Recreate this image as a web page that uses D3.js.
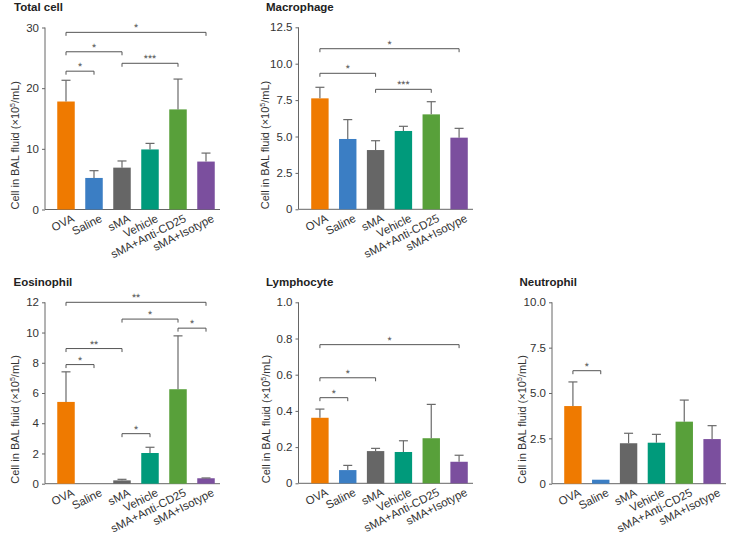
<!DOCTYPE html>
<html>
<head>
<meta charset="utf-8">
<script src="https://cdn.jsdelivr.net/npm/d3@7/dist/d3.min.js"></script>
<style>
  html, body { margin: 0; padding: 0; background: #ffffff; }
  svg { display: block; }
  text { font-family: "Liberation Sans", Arial, sans-serif; }
</style>
</head>
<body>
<svg id="chart" width="734" height="538"></svg>
<script>
// ---------------- data ----------------
const categories = ["OVA", "Saline", "sMA", "Vehicle", "sMA+Anti-CD25", "sMA+Isotype"];
const barColors = ["#ef7a00", "#3b7ec4", "#666666", "#009a7b", "#58a03a", "#7b4f9e"];

const totalMean = [17.8, 5.2, 6.9, 9.9, 16.5, 7.9];
const totalSD   = [3.5, 1.2, 1.1, 1.0, 5.0, 1.4];
const totalTicks = [0, 10, 20, 30];
const totalTickLabels = ["0", "10", "20", "30"];
const totalSig = [[0, 5, 29.2, "*"], [0, 2, 26.0, "*"], [0, 1, 22.8, "*"], [2, 4, 24.1, "***"]];

const macroMean = [7.62, 4.83, 4.07, 5.38, 6.52, 4.92];
const macroSD   = [0.76, 1.33, 0.64, 0.32, 0.87, 0.64];
const macroTicks = [0, 2.5, 5, 7.5, 10, 12.5];
const macroTickLabels = ["0", "2.5", "5.0", "7.5", "10.0", "12.5"];
const macroSig = [[0, 5, 11.03, "*"], [0, 2, 9.34, "*"], [2, 4, 8.24, "***"]];

const eosMean = [5.41, 0, 0.22, 2.03, 6.25, 0.36];
const eosSD   = [1.99, 0, 0.07, 0.38, 3.53, 0.02];
const eosTicks = [0, 2, 4, 6, 8, 10, 12];
const eosTickLabels = ["0", "2", "4", "6", "8", "10", "12"];
const eosSig = [[0, 5, 12.0, "**"], [2, 4, 10.89, "*"], [4, 5, 10.29, "*"], [0, 2, 8.94, "**"], [0, 1, 7.88, "*"], [2, 3, 3.31, "*"]];

const lymMean = [0.362, 0.073, 0.178, 0.173, 0.249, 0.119];
const lymSD   = [0.048, 0.026, 0.015, 0.062, 0.187, 0.036];
const lymTicks = [0, 0.2, 0.4, 0.6, 0.8, 1.0];
const lymTickLabels = ["0", "0.2", "0.4", "0.6", "0.8", "1.0"];
const lymSig = [[0, 5, 0.766, "*"], [0, 2, 0.583, "*"], [0, 1, 0.473, "*"]];

const neuMean = [4.28, 0.22, 2.23, 2.26, 3.42, 2.46];
const neuSD   = [1.33, 0, 0.55, 0.46, 1.19, 0.74];
const neuTicks = [0, 2.5, 5, 7.5, 10];
const neuTickLabels = ["0", "2.5", "5.0", "7.5", "10.0"];
const neuSig = [[0, 1, 6.23, "*"]];

const titles = ["Total cell", "Macrophage", "Eosinophil", "Lymphocyte", "Neutrophil"];

// ---------------- layout ----------------
const panels = [
  { title: titles[0], mean: totalMean, sd: totalSD, ticks: totalTicks, labels: totalTickLabels, sig: totalSig,
    axisX: 45, y0: 209.5, yTop: 27.5, band: [52, 220], titleX: 14, titleY: 11, labelX: 19 },
  { title: titles[1], mean: macroMean, sd: macroSD, ticks: macroTicks, labels: macroTickLabels, sig: macroSig,
    axisX: 298.5, y0: 209.3, yTop: 27.3, band: [306, 473], titleX: 266, titleY: 11, labelX: 269 },
  { title: titles[2], mean: eosMean, sd: eosSD, ticks: eosTicks, labels: eosTickLabels, sig: eosSig,
    axisX: 45, y0: 483.7, yTop: 302.3, band: [52, 220], titleX: 13.5, titleY: 286, labelX: 19 },
  { title: titles[3], mean: lymMean, sd: lymSD, ticks: lymTicks, labels: lymTickLabels, sig: lymSig,
    axisX: 298.5, y0: 483.3, yTop: 302.3, band: [306, 473], titleX: 266, titleY: 286, labelX: 270 },
  { title: titles[4], mean: neuMean, sd: neuSD, ticks: neuTicks, labels: neuTickLabels, sig: neuSig,
    axisX: 552, y0: 483.7, yTop: 302.3, band: [559, 726], titleX: 519.5, titleY: 286, labelX: 525.5 }
];

const svg = d3.select("#chart");
const axisColor = "#666666";
const textColor = "#333333";
const errColor = "#6a6a6a";
const sigColor = "#555555";

panels.forEach(p => {
  const g = svg.append("g");
  const tmax = p.ticks[p.ticks.length - 1];
  const y = d3.scaleLinear().domain([0, tmax]).range([p.y0, p.yTop]);
  const x = d3.scaleBand().domain(categories).range(p.band).paddingInner(0.375).paddingOuter(0.1875);

  // title
  g.append("text").attr("x", p.titleX).attr("y", p.titleY)
    .attr("font-size", 11.5).attr("font-weight", "bold").attr("fill", "#222")
    .text(p.title);

  // y axis
  const yAxis = d3.axisLeft(y).tickValues(p.ticks)
    .tickFormat((d, i) => p.labels[i]).tickSize(3).tickPadding(3);
  const ya = g.append("g").attr("transform", `translate(${p.axisX},0)`).call(yAxis);
  ya.select(".domain").attr("stroke", axisColor).attr("d", `M0,${p.yTop}V${p.y0}`);
  ya.selectAll(".tick line").attr("stroke", axisColor);
  ya.selectAll(".tick text").attr("fill", textColor).attr("font-size", 11.5)
    .attr("font-family", "'Liberation Sans', Arial, sans-serif");

  // x axis line
  g.append("line").attr("x1", p.axisX).attr("x2", p.band[1])
    .attr("y1", p.y0).attr("y2", p.y0).attr("stroke", axisColor).attr("stroke-width", 1);

  // bars
  g.selectAll("rect.bar").data(categories).enter().append("rect")
    .attr("class", "bar")
    .attr("x", d => x(d))
    .attr("width", x.bandwidth())
    .attr("y", (d, i) => y(p.mean[i]))
    .attr("height", (d, i) => y(0) - y(p.mean[i]))
    .attr("fill", (d, i) => barColors[i]);

  // error bars (upper only)
  categories.forEach((c, i) => {
    if (p.sd[i] <= 0) return;
    const cx = x(c) + x.bandwidth() / 2;
    const top = y(p.mean[i] + p.sd[i]);
    g.append("line").attr("x1", cx).attr("x2", cx).attr("y1", y(p.mean[i])).attr("y2", top)
      .attr("stroke", errColor).attr("stroke-width", 1.2);
    g.append("line").attr("x1", cx - 4.5).attr("x2", cx + 4.5).attr("y1", top).attr("y2", top)
      .attr("stroke", errColor).attr("stroke-width", 1.2);
  });

  // significance brackets
  p.sig.forEach(s => {
    const x1 = x(categories[s[0]]) + x.bandwidth() / 2;
    const x2 = x(categories[s[1]]) + x.bandwidth() / 2;
    const yy = y(s[2]);
    g.append("path")
      .attr("d", `M${x1},${yy + 3.5}V${yy}H${x2}V${yy + 3.5}`)
      .attr("fill", "none").attr("stroke", sigColor).attr("stroke-width", 1);
    g.append("text").attr("x", (x1 + x2) / 2).attr("y", yy - 1)
      .attr("text-anchor", "middle").attr("font-size", 10.5).attr("fill", sigColor)
      .style("text-rendering", "geometricPrecision")
      .text(s[3]);
  });

  // x labels
  categories.forEach((c, i) => {
    const cx = x(c) + x.bandwidth() / 2;
    g.append("text")
      .attr("transform", `translate(${cx + 9},${p.y0 + 11.5}) rotate(-27)`)
      .attr("text-anchor", "end").attr("font-size", 11.5).attr("fill", textColor)
      .text(c);
  });

  // y label
  const yl = g.append("text")
    .attr("transform", `translate(${p.labelX},${p.y0}) rotate(-90)`)
    .attr("text-anchor", "start").attr("font-size", 11).attr("fill", textColor);
  yl.append("tspan").text("Cell in BAL fluid (\u00d710");
  yl.append("tspan").attr("font-size", 7).attr("dy", -4).text("5");
  yl.append("tspan").attr("dy", 4).text("/mL)");
});
</script>
</body>
</html>
